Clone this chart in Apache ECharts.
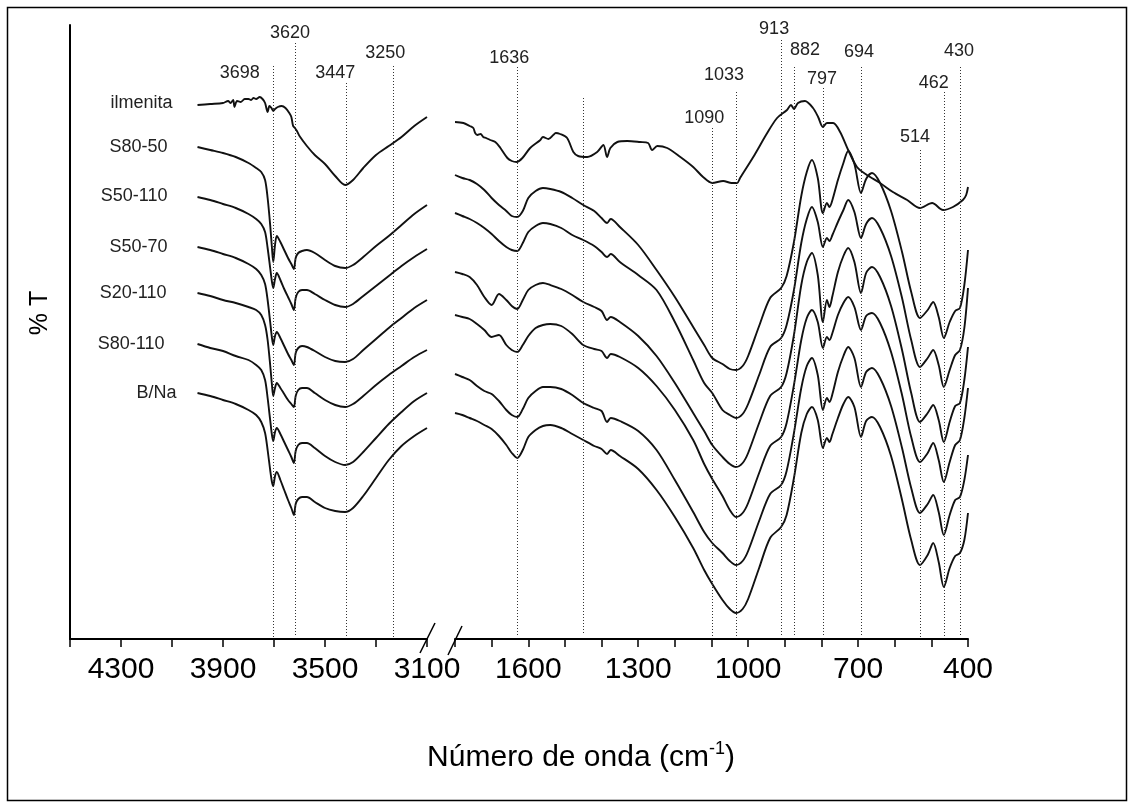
<!DOCTYPE html>
<html><head><meta charset="utf-8">
<script src="https://cdn.jsdelivr.net/npm/echarts@6/dist/echarts.min.js"></script>
<style>html,body{margin:0;padding:0;background:#fff}#c{width:1135px;height:807px}</style>
</head><body><div id="c"></div>
<script>
// ---------- data (wavenumber in cm-1, transmittance in offset a.u.) ----------
const seriesNames = ['ilmenita','S80-50','S50-110','S50-70','S20-110','S80-110','B/Na'];

const leftTickLabels = [4300, 3900, 3500, 3100];
const rightTickLabels = [1600, 1300, 1000, 700, 400];

const wnLeft = [4000,3950,3900,3850,3800,3770,3750,3735,3725,3715,3708,3703,3696,3689,3675,3660,3645,3632,3622,3615,3605,3590,3571,3540,3500,3460,3421,3390,3350,3300,3250,3200,3150,3100];
const wnRight = [1800,1780,1760,1740,1720,1700,1680,1660,1645,1630,1615,1600,1580,1560,1540,1510,1480,1450,1420,1400,1385,1375,1350,1300,1250,1200,1150,1120,1098,1070,1050,1033,1015,1000,970,940,910,895,875,855,840,826,810,796,785,778,770,755,740,727,710,692,678,662,640,610,580,555,531,510,495,480,466,450,435,422,410,400];

const wnIlmLeft = [4000,3950,3900,3880,3870,3860,3855,3845,3830,3815,3800,3790,3780,3770,3756,3745,3735,3725,3718,3710,3703,3696,3685,3670,3655,3640,3632,3625,3618,3610,3600,3571,3540,3500,3460,3421,3390,3350,3300,3250,3200,3150,3100];
const ilmLeft = [535,536,537,539,537,540,533,539,538,541,541,540,542,541,543,541,537,528,534,532,529,531,533,534,532,527,523,514,512,509,504,494,485,476,464,455,460,472,485,494,503,514,523];
const wnIlmRight = [1800,1777,1760,1750,1745,1739,1730,1723,1715,1704,1690,1676,1657,1645,1632,1616,1595,1567,1560,1545,1532,1525,1513,1494,1477,1464,1439,1412,1395,1385,1376,1357,1330,1295,1273,1262,1248,1221,1185,1150,1123,1098,1068,1045,1030,1022,986,948,921,894,883,875,864,845,823,809,796,785,768,749,727,703,676,640,605,566,531,498,468,441,414,405,400];
const ilmRight = [518,517,514,512,507,505,506,503,502,500,498,492,482,479,478,482,492,500,503,501,505,507,506,502,488,484,483,488,495,483,492,498,499,498,497,490,494,492,483,473,463,457,459,457,457,462,483,507,522,530,535,531,537,539,532,523,513,517,517,508,490,473,465,457,448,440,432,437,430,433,440,445,453];

const s8050Left = [493,490,487,483,477,472,468,460,442,415,392,378,395,404,398,390,382,376,371,382,387,389,390,387,380,374,372,375,383,394,404,415,426,435];
const s8050Right = [465,462,460,456,450,442,435,429,424,423,429,442,449,452,451,448,442,435,429,422,417,421,413,395,370,343,313,295,282,276,271,270,274,284,314,342,352,364,398,444,468,480,462,427,437,433,440,460,477,489,476,447,461,467,457,429,388,348,322,330,338,323,302,318,329,332,355,390];

const s50110Left = [443,440,436,432,426,421,416,408,392,372,358,352,361,367,360,351,343,336,330,342,348,350,350,346,340,335,333,336,344,354,364,374,383,391];
const s50110Right = [427,424,421,417,412,406,399,393,390,389,397,408,414,417,416,412,405,400,394,388,383,386,378,365,350,318,280,257,247,230,225,222,226,236,265,293,302,315,350,397,421,433,418,393,402,399,405,418,430,440,428,402,416,422,412,384,342,300,273,282,290,275,253,270,285,290,312,352];

const s5070Left = [393,390,386,382,376,371,365,356,340,318,302,295,304,308,302,294,286,280,275,287,292,294,293,289,283,279,278,281,290,301,312,322,332,340];
const s5070Right = [368,366,363,355,343,335,346,340,334,331,340,350,355,357,355,351,345,338,333,329,320,323,318,304,284,257,227,209,195,183,176,173,177,187,217,244,253,267,305,355,378,387,365,318,340,333,344,368,384,392,378,347,367,373,363,334,290,247,218,227,235,220,198,218,234,237,260,293];

const s20110Left = [347,344,340,337,333,330,325,315,300,275,255,244,252,257,252,246,240,236,233,244,250,252,252,247,240,235,233,236,244,255,265,274,283,290];
const s20110Right = [325,323,321,316,310,303,305,295,290,288,295,304,312,315,316,314,306,295,291,289,282,286,283,272,254,230,200,176,161,144,130,123,127,137,167,194,203,217,255,300,322,330,318,292,303,300,307,325,337,343,333,310,324,327,317,288,245,203,178,187,197,180,158,178,195,200,222,252];

const s80110Left = [296,292,289,284,280,275,270,260,242,220,205,199,208,212,206,198,190,183,177,189,195,197,197,192,184,178,175,178,188,202,216,228,239,247];
const s80110Right = [266,263,260,254,249,246,239,230,225,223,231,242,249,253,253,251,245,237,232,229,218,222,219,209,190,160,128,108,97,87,79,75,79,89,119,146,155,169,207,252,274,282,265,230,242,238,246,268,284,293,282,253,268,272,262,234,192,152,127,136,145,128,105,125,140,143,160,185];

const bnaLeft = [247,244,240,236,230,225,218,207,190,170,158,154,164,168,160,150,140,132,125,136,141,143,143,138,132,129,128,132,144,162,180,194,204,212];
const bnaRight = [227,225,222,219,215,211,204,195,187,182,190,203,210,214,215,212,206,200,194,191,186,190,184,171,150,123,92,70,56,40,31,27,31,41,72,102,113,125,162,207,226,233,220,192,202,198,206,222,236,243,233,203,219,223,213,184,140,100,75,85,97,78,53,72,84,87,100,127];

// band reference lines (position on the drawn axis, top end, bottom end, label)
const bandLeftPos = [3701, 3618, 3417, 3232];
const bandLeftTop = [574, 597, 557, 574];
const bandLeftBottom = [3, 3, 3, 3];
const bandLeftText = ['3698', '3620', '3447', '3250'];
const bandRightPos = [1630, 1450, 1098, 1033, 910, 875, 796, 692, 531, 466, 422];
const bandRightTop = [573, 542, 512, 548, 600, 573, 552, 573, 490, 548, 573];
const bandRightBottom = [3, 7, 3, 3, 3, 3, 3, 3, 3, 3, 3];
const bandRightText = ['1636', '', '1090', '1033', '913', '882', '797', '694', '514', '462', '430'];

// ---------- layout / style ----------
const FONT = '"Liberation Sans", Arial, sans-serif';
const SMALL = '"Liberation Sans", Arial, sans-serif';
const lineColor = '#111';
const nameOffset = [[-25,-2],[-30,0],[-30,-1],[-30,0],[-31,0],[-33,0],[-21,0]];
const bandLeftOffset = [[-34,7],[-5,-10],[-11,-10],[-8,-13]];
const bandRightOffset = [[-8,-9],[0,0],[-8,-10],[-12,-17],[-7,-11],[11,-17],[-1,-9],[-2,-15],[-5,-13],[-10,-9],[-1,-16]];

const zip = (xs, ys) => xs.map((x, i) => [x, ys[i]]);
const curves = [
  {left: zip(wnIlmLeft, ilmLeft), right: zip(wnIlmRight, ilmRight)},
  {left: zip(wnLeft, s8050Left), right: zip(wnRight, s8050Right)},
  {left: zip(wnLeft, s50110Left), right: zip(wnRight, s50110Right)},
  {left: zip(wnLeft, s5070Left), right: zip(wnRight, s5070Right)},
  {left: zip(wnLeft, s20110Left), right: zip(wnRight, s20110Right)},
  {left: zip(wnLeft, s80110Left), right: zip(wnRight, s80110Right)},
  {left: zip(wnLeft, bnaLeft), right: zip(wnRight, bnaRight)}
];

const markStyle = {symbol:['none','none'], silent:true, animation:false, label:{show:false},
  emphasis:{disabled:true}, lineStyle:{type:[1,2], color:'#333', width:1}};

function mk(name, data, g, mark) {
  const s = {name, type:'line', xAxisIndex:g, yAxisIndex:g, data, showSymbol:false, symbol:'none',
    smooth:0.3, lineStyle:{color:lineColor, width:1.9}, silent:true, animation:false, z:3,
    emphasis:{disabled:true}};
  if (mark) s.markLine = mark;
  return s;
}

const series = [];
curves.forEach((c, i) => {
  series.push(mk(seriesNames[i], c.left, 0, i === 0 ? Object.assign({}, markStyle, {
    data: bandLeftPos.map((p, k) => [{coord:[p, bandLeftTop[k]]}, {coord:[p, bandLeftBottom[k]]}])}) : null));
  series.push(mk(seriesNames[i], c.right, 1, i === 0 ? Object.assign({}, markStyle, {
    data: bandRightPos.map((p, k) => [{coord:[p, bandRightTop[k]]}, {coord:[p, bandRightBottom[k]]}])}) : null));
});

function xAx(g, min, max, interval, labels) {
  return {gridIndex:g, type:'value', min, max, interval, inverse:true,
    axisLine:{show:true, onZero:false, lineStyle:{color:'#000', width:2}},
    axisTick:{show:true, length:8, lineStyle:{color:'#000', width:1.5}},
    axisLabel:{formatter: v => labels.includes(v) ? String(v) : '', fontSize:30, fontFamily:FONT,
      color:'#000', margin:16, showMinLabel:true, showMaxLabel:true},
    splitLine:{show:false}};
}

const chart = echarts.init(document.getElementById('c'), null, {renderer:'canvas', width:1135, height:807});
chart.setOption({
  animation:false,
  backgroundColor:'#fff',
  grid:[{left:70, top:25, width:357, height:614, containLabel:false, outerBoundsMode:'none'},
        {left:455, top:25, width:513, height:614, containLabel:false, outerBoundsMode:'none'}],
  xAxis:[xAx(0, 3100, 4500, 200, leftTickLabels), xAx(1, 400, 1800, 100, rightTickLabels)],
  yAxis:[{gridIndex:0, type:'value', min:1, max:615, axisLine:{show:true, lineStyle:{color:'#000', width:2}},
          axisTick:{show:false}, axisLabel:{show:false}, splitLine:{show:false}},
         {gridIndex:1, type:'value', min:1, max:615, show:false, splitLine:{show:false}}],
  series
});

// ---------- text and decorations ----------
const gfx = [];
gfx.push({type:'rect', silent:true, shape:{x:7.5, y:7.5, width:1119, height:793},
  style:{fill:'none', stroke:'#000', lineWidth:1.5}});
gfx.push({type:'line', silent:true, shape:{x1:420, y1:653, x2:435, y2:623}, style:{stroke:'#000', lineWidth:1.5}});
gfx.push({type:'line', silent:true, shape:{x1:448, y1:655, x2:462, y2:626}, style:{stroke:'#000', lineWidth:1.5}});

seriesNames.forEach((n, i) => {
  const p = chart.convertToPixel({gridIndex:0}, curves[i].left[0]);
  gfx.push({type:'text', silent:true, x:p[0] + nameOffset[i][0], y:p[1] + nameOffset[i][1],
    style:{text:n, fontSize:18, fontFamily:SMALL, fill:'#222', align:'right', verticalAlign:'middle'}});
});
function bandLabels(g, pos, top, text, off) {
  pos.forEach((v, k) => {
    if (!text[k]) return;
    const p = chart.convertToPixel({gridIndex:g}, [v, top[k]]);
    gfx.push({type:'text', silent:true, x:p[0] + off[k][0], y:p[1] + off[k][1],
      style:{text:text[k], fontSize:18, fontFamily:SMALL, fill:'#222', align:'center', verticalAlign:'middle'}});
  });
}
bandLabels(0, bandLeftPos, bandLeftTop, bandLeftText, bandLeftOffset);
bandLabels(1, bandRightPos, bandRightTop, bandRightText, bandRightOffset);

gfx.push({type:'text', silent:true, x:40, y:313, rotation:Math.PI/2,
  style:{text:'% T', fontSize:25, fontFamily:FONT, fill:'#000', align:'center', verticalAlign:'middle'}});

const ctx = document.createElement('canvas').getContext('2d');
function tw(t, s) { ctx.font = s + 'px ' + FONT; return ctx.measureText(t).width; }
const t1 = 'Número de onda (cm', t2 = '-1', t3 = ')';
const w1 = tw(t1, 30), w2 = tw(t2, 18), w3 = tw(t3, 30);
const x0 = 581 - (w1 + w2 + w3) / 2;
gfx.push({type:'text', silent:true, x:x0, y:758, style:{text:t1, fontSize:30, fontFamily:FONT, fill:'#000', align:'left', verticalAlign:'middle'}});
gfx.push({type:'text', silent:true, x:x0 + w1, y:749, style:{text:t2, fontSize:18, fontFamily:FONT, fill:'#000', align:'left', verticalAlign:'middle'}});
gfx.push({type:'text', silent:true, x:x0 + w1 + w2, y:758, style:{text:t3, fontSize:30, fontFamily:FONT, fill:'#000', align:'left', verticalAlign:'middle'}});

chart.setOption({graphic: gfx});
</script></body></html>
